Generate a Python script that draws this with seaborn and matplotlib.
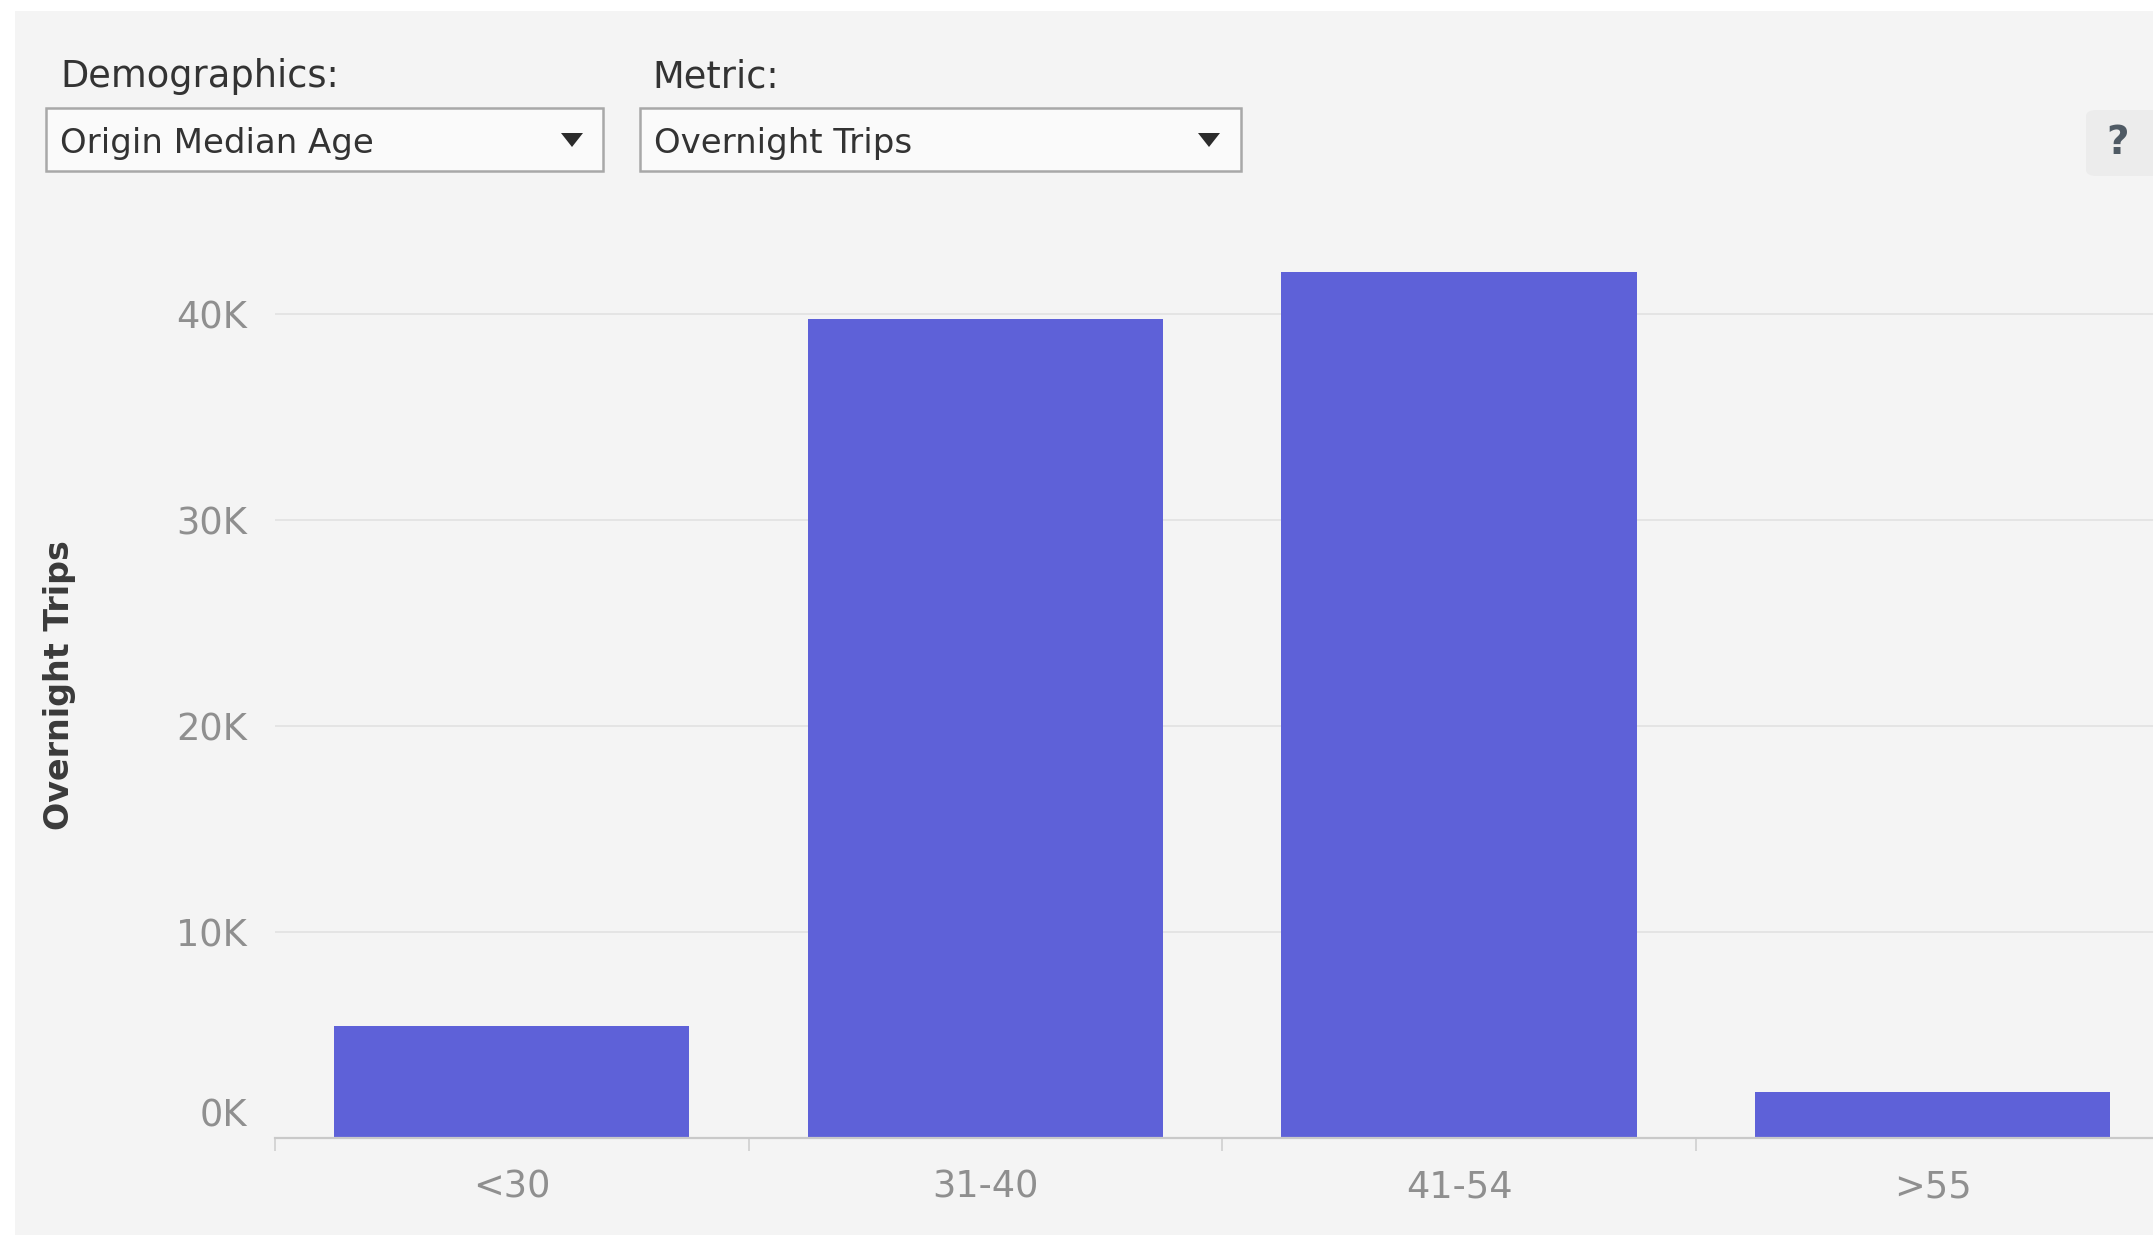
import matplotlib
matplotlib.use("Agg")

import pandas as pd
import seaborn as sns
from matplotlib import pyplot as plt
from matplotlib.patches import Rectangle, Polygon, FancyBboxPatch
from matplotlib.ticker import FixedLocator, FuncFormatter
from matplotlib.transforms import ScaledTranslation

# data
age_groups = ["<30", "31-40", "41-54", ">55"]
overnight_trips = [5450, 39750, 42000, 2250]
y_ticks = [0, 10000, 20000, 30000, 40000]

demographic_label = "Demographics:"
demographic_choice = "Origin Median Age"
metric_label = "Metric:"
metric_choice = "Overnight Trips"

W, H, DPI = 2153, 1235, 100
BAR = "#5e61d8"
PANEL = "#f4f4f4"
TEXT = "#333333"
TICK = "#8f8f8f"

sns.set_style("white")
plt.rcParams["font.family"] = ["DejaVu Sans"]


def fx(px):
    return px / W


def fy(py):
    return 1 - py / H


fig = plt.figure(figsize=(W / DPI, H / DPI), dpi=DPI, facecolor="white")

# dashboard panel
fig.patches.append(Rectangle((fx(15), 0), 1 - fx(15), fy(11), transform=fig.transFigure,
                             facecolor=PANEL, edgecolor="none", zorder=-10))

# parameter controls
fig.text(fx(60), fy(87), demographic_label, fontsize=26.5, color=TEXT, va="baseline")
fig.text(fx(652), fy(87), metric_label, fontsize=26.5, color=TEXT, va="baseline")

for (x0, x1, arrow_x, txt) in [(46, 603, 572, demographic_choice),
                               (640, 1241, 1209, metric_choice)]:
    fig.patches.append(Rectangle((fx(x0), fy(171)), fx(x1) - fx(x0), fy(108) - fy(171),
                                 transform=fig.transFigure, facecolor="#fafafa",
                                 edgecolor="#a8a8a8", linewidth=1.8, zorder=1))
    fig.patches.append(Polygon([(fx(arrow_x - 11), fy(133)), (fx(arrow_x + 11), fy(133)),
                                (fx(arrow_x), fy(147))], closed=True,
                               transform=fig.transFigure, facecolor="#2b2b2b",
                               edgecolor="none", zorder=2))
    fig.text(fx(x0 + 14), fy(153), txt, fontsize=24.5, color=TEXT, va="baseline", zorder=3)

# help button
fig.patches.append(FancyBboxPatch((fx(2086), fy(176)), fx(90), fy(110) - fy(176),
                                  boxstyle="round,pad=0,rounding_size=0.005",
                                  transform=fig.transFigure, facecolor="#ececec",
                                  edgecolor="none", zorder=1))
fig.text(fx(2118), fy(143), "?", fontsize=28, fontweight="bold", color="#4f5a64",
         ha="center", va="center", zorder=3)

# chart
df = pd.DataFrame({"age": age_groups, "trips": overnight_trips})

ax = fig.add_axes([fx(275), fy(1138), 1 - fx(275), fy(190) - fy(1138)])
ax.set_facecolor("none")
ax.set_zorder(5)

sns.barplot(data=df, x="age", y="trips", color=BAR, saturation=1, width=0.75,
            linewidth=0, ax=ax, zorder=3)

ax.yaxis.set_major_locator(FixedLocator(y_ticks))
ax.yaxis.set_major_formatter(FuncFormatter(lambda v, _: f"{v / 1000:.0f}K"))
ax.yaxis.grid(True, color="#e4e4e4", linewidth=1.4)
ax.set_axisbelow(True)

for s in ["left", "top", "right"]:
    ax.spines[s].set_visible(False)
ax.spines["bottom"].set_color("#c9c9c9")
ax.spines["bottom"].set_linewidth(1.6)
ax.spines["bottom"].set_zorder(4)

ax.set_xticks([i - 0.5 for i in range(len(age_groups) + 1)], minor=True)
ax.tick_params(axis="x", which="major", bottom=True, length=0, labelsize=26.5,
               labelcolor=TICK, pad=22)
ax.tick_params(axis="x", which="minor", bottom=True, length=9, width=1.2, color="#cfcfcf")
ax.tick_params(axis="y", length=0, labelsize=26.5, labelcolor=TICK, pad=20)

# limits last, so the boundary ticks do not widen the view
ax.set_xlim(-0.5, -0.5 + (W - 275) / 473.6)
ax.set_ylim(0, 46000)

ax.set_xlabel("")
ax.set_ylabel("Overnight Trips", fontsize=24, fontweight="bold", color="#3a3a3a")
ax.yaxis.set_label_coords((59 - 275) / (W - 275), (1138 - 685) / (1138 - 190))
ax.yaxis.label.set_va("center")

# the zero label sits a little above the baseline
zero_lbl = ax.yaxis.get_major_ticks()[0].label1
zero_lbl.set_transform(zero_lbl.get_transform() + ScaledTranslation(0, 26 / DPI, fig.dpi_scale_trans))

fig.savefig("out.png", dpi=DPI, facecolor=fig.get_facecolor())
